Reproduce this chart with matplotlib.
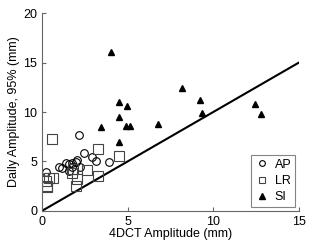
import numpy as np
import matplotlib.pyplot as plt

plt.rcParams['font.family'] = ['Liberation Sans', 'DejaVu Sans']

ap_x = [0.25, 0.99, 1.15, 1.40, 1.60, 1.58, 1.77, 1.97, 2.04, 2.22, 2.18, 2.45, 2.92, 3.13, 3.91, 1.73]
ap_y = [3.96, 4.46, 4.36, 4.87, 4.70, 4.03, 4.80, 4.97, 5.14, 4.40, 7.72, 5.87, 5.47, 5.04, 4.97, 4.46]

lr_x = [0.60, 0.23, 0.41, 0.62, 0.27, 0.27, 1.73, 1.83, 2.06, 1.97, 2.61, 3.25, 3.25, 4.51]
lr_y = [7.32, 3.02, 3.29, 3.29, 2.39, 2.55, 3.80, 4.20, 3.22, 2.55, 4.13, 6.24, 3.56, 5.54]

si_x = [4.01, 4.51, 4.98, 4.48, 3.44, 4.90, 5.14, 6.79, 8.17, 9.22, 9.36, 12.43, 12.78, 4.50]
si_y = [16.1, 11.0, 10.6, 9.5, 8.5, 8.56, 8.56, 8.76, 12.45, 11.2, 9.9, 10.8, 9.84, 6.98]

line_x = [0, 15]
line_y = [0, 15]

fig = plt.figure(figsize=(3.15, 2.52), dpi=100)
ax = fig.add_axes([0.133, 0.163, 0.816, 0.785])

ax.plot(line_x, line_y, color='k', lw=1.5)
ax.plot(ap_x, ap_y, 'o', mfc='none', mec='k', ms=5.5, mew=0.8, label='AP')
ax.plot(lr_x, lr_y, 's', mfc='none', mec='#444444', ms=6.5, mew=0.8, label='LR')
ax.plot(si_x, si_y, '^', color='k', ms=5, label='SI')

ax.set_xlim(0, 15)
ax.set_ylim(0, 20)
ax.set_xticks([0, 5, 10, 15])
ax.set_yticks([0, 5, 10, 15, 20])
ax.tick_params(direction='in', labelsize=9, length=3, color='#666666')
for s in ['top', 'right']:
    ax.spines[s].set_visible(False)
for s in ['left', 'bottom']:
    ax.spines[s].set_color('#666666')

ax.set_xlabel('4DCT Amplitude (mm)', fontsize=9, labelpad=0)
ax.set_ylabel('Daily Amplitude, 95% (mm)', fontsize=9, labelpad=2)

leg = ax.legend(loc='lower right', fontsize=9, frameon=True, fancybox=False,
                edgecolor='#666666', handletextpad=0.4, borderpad=0.3,
                handlelength=1.2, labelspacing=0.35, markerscale=0.75,
                borderaxespad=0.3)
leg.get_frame().set_linewidth(0.8)

fig.savefig('out.png', dpi=100)
